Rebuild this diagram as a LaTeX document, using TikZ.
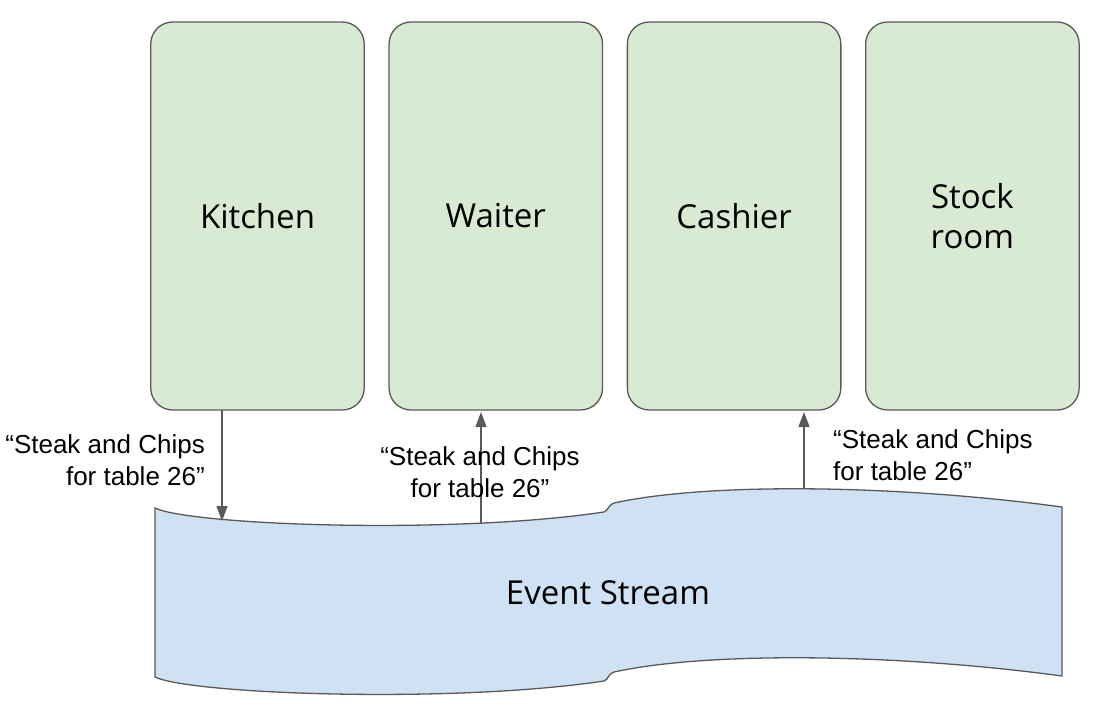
\documentclass[tikz,border=0pt]{standalone}
\usepackage{fontspec}
\setmainfont{Liberation Sans}
\newfontfamily\opensans{Open Sans}
\usetikzlibrary{arrows.meta,positioning}
\definecolor{boxgreen}{HTML}{D9EAD3}
\definecolor{streamblue}{HTML}{CFE2F3}
\definecolor{edgegray}{HTML}{595959}
\tikzset{%
   actor/.style={
      rectangle,
      rounded corners=22pt,
      draw=edgegray,
      fill=boxgreen,
      line width=1.3pt,
      minimum width=213.5pt,
      minimum height=388pt,
      outer sep=0pt,
      align=center,
      font=\opensans\fontsize{33}{40}\selectfont
   },
   msg/.style={
      font=\fontsize{26}{32}\selectfont,
      inner sep=0pt
   },
   flow/.style={
      draw=edgegray,
      line width=1.3pt,
      -{Triangle[length=15pt,width=11pt]}
   },
   stream/.style={
      draw=edgegray,
      fill=streamblue,
      line width=1.3pt
   },
}

\begin{document}
\begin{tikzpicture}[x=1pt, y=-1pt, node distance=24.8pt]
   \useasboundingbox (0,0) rectangle (1112,718);
   \path[stream] (155,508) .. controls (190,525) and (450,535) .. (604,512)
      .. controls (609,510) and (607,506) .. (614,503)
      .. controls (710,482) and (900,485) .. (1062,507)
      -- (1062,676)
      .. controls (900,654) and (710,651) .. (614,672)
      .. controls (607,675) and (609,679) .. (604,681)
      .. controls (450,704) and (190,694) .. (155,677) -- cycle;
   \node[font=\opensans\fontsize{33}{40}\selectfont] (events) at (608,593) {Event Stream};
   \node[actor] (kitchen) at (257.5,216) {Kitchen};
   \node[actor, right=of kitchen] (waiter) {Waiter};
   \node[actor, right=of waiter] (cashier) {Cashier};
   \node[actor, right=of cashier] (stock) {Stock\\room};
   \coordinate (k) at (222,521);
   \coordinate (w) at (481,523);
   \coordinate (c) at (804,488);
   \draw[flow] (kitchen.south -| k) -- (k);
   \draw[flow, shorten >=2pt] (w) -- (waiter.south -| w);
   \draw[flow, shorten >=2pt] (c) -- (cashier.south -| c);
   \node[msg, align=right, anchor=east] (kmsg) at (205,460) {“Steak and Chips\\for table 26”};
   \node[msg, align=center] (wmsg) at (480,472) {“Steak and Chips\\for table 26”};
   \node[msg, align=left, anchor=west] (cmsg) at (833,455) {“Steak and Chips\\for table 26”};
\end{tikzpicture}
\end{document}
